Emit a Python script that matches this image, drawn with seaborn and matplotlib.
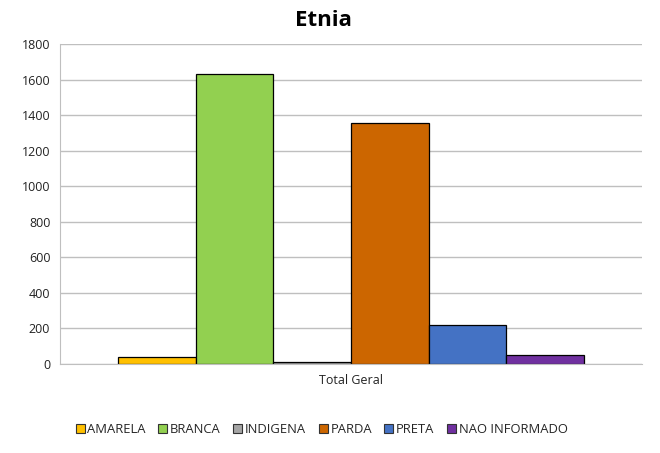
import matplotlib
matplotlib.use("Agg")
import matplotlib.pyplot as plt
import seaborn as sns
import pandas as pd

# Data
categorias = ["AMARELA", "BRANCA", "INDIGENA", "PARDA", "PRETA", "NAO INFORMADO"]
valores = [37, 1631, 9, 1355, 219, 52]
cores = ["#FFC000", "#92D050", "#A5A5A5", "#CC6600", "#4472C4", "#7030A0"]
grupo = "Total Geral"
y_ticks = [0, 200, 400, 600, 800, 1000, 1200, 1400, 1600, 1800]

df = pd.DataFrame({
    "grupo": [grupo] * len(categorias),
    "etnia": categorias,
    "valor": valores,
})

sns.set_style("white")
plt.rcParams["font.family"] = ["Open Sans", "DejaVu Sans"]

fig = plt.figure(figsize=(6.6, 4.53), dpi=100)
ax = fig.add_axes([0.0909, 0.1965, 0.882, 0.7065])

sns.barplot(data=df, x="grupo", y="valor", hue="etnia", hue_order=categorias,
            palette=cores, width=0.8, edgecolor="black", linewidth=0.9,
            saturation=1, ax=ax, legend=True)

ax.set_xlim(-0.5, 0.5)
ax.set_ylim(0, 1800)
ax.set_yticks(y_ticks)
ax.yaxis.grid(True, color="#BFBFBF", linewidth=1)
ax.set_axisbelow(True)
ax.set_xlabel("")
ax.set_ylabel("")
ax.tick_params(axis="both", length=0, labelsize=9, colors="#222222", pad=7)
for s in ["top", "right"]:
    ax.spines[s].set_visible(False)
ax.spines["left"].set_color("#BFBFBF")
ax.spines["bottom"].set_color("#BFBFBF")

fig.suptitle("Etnia", x=0.49, y=0.978, fontsize=16, fontweight="bold", color="black")

leg = ax.legend(loc="center left", bbox_to_anchor=(0.018, -0.205), ncol=6, frameon=False,
                fontsize=9.4, handlelength=0.7, handleheight=0.7,
                handletextpad=0.2, columnspacing=0.95, borderaxespad=0)
for h in leg.legend_handles:
    h.set_linewidth(0.8)
    h.set_edgecolor("#333333")

fig.savefig("out.png", dpi=100)
